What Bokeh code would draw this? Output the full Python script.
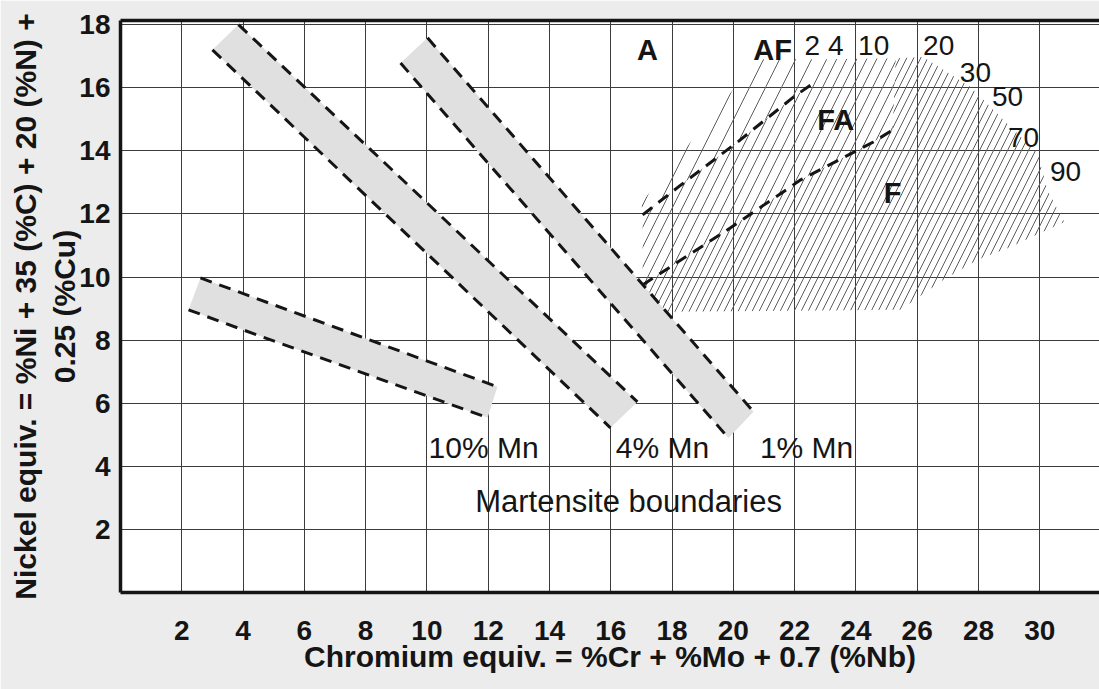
from bokeh.plotting import figure
from bokeh.models import FixedTicker, LinearAxis, Range1d
from bokeh.core.properties import value
from bokeh.embed import file_html
from bokeh.resources import INLINE

# ---------------- data ----------------
x_ticks = [2, 4, 6, 8, 10, 12, 14, 16, 18, 20, 22, 24, 26, 28, 30]
y_ticks = [2, 4, 6, 8, 10, 12, 14, 16, 18]

# martensite boundary bands (upper / lower dashed edges)
band_names = ["10% Mn", "4% Mn", "1% Mn"]
band_upper_x = [[2.61, 12.30], [3.85, 16.87], [10.02, 20.66]]
band_upper_y = [[9.97, 6.52], [18.00, 6.04], [17.58, 5.73]]
band_lower_x = [[2.22, 4.01, 11.98], [3.00, 15.99], [9.14, 19.84]]
band_lower_y = [[8.96, 8.32, 5.54], [17.20, 5.22], [16.78, 4.90]]
band_label_x = [11.85, 17.69, 22.39]
band_label_y = [4.60, 4.60, 4.60]

# phase boundaries (dashed)
af_fa_x = [17.04, 18.28, 20.14, 21.96, 22.62]
af_fa_y = [11.97, 12.91, 14.28, 15.70, 16.15]
fa_f_x = [17.04, 19.91, 22.20, 24.57, 25.20]
fa_f_y = [9.75, 11.56, 13.08, 14.28, 14.66]

# outline of the ferrite-containing (hatched) area
af_edge_x = [17.00, 20.80, 22.90]
af_edge_y = [12.35, 16.90, 16.90]
fa_top_x = [22.90, 25.30]
fa_top_y = [16.90, 16.93]
f_edge_x = [25.30, 26.20, 27.74, 28.82, 29.93, 30.25, 30.80, 30.03, 29.05, 27.97, 26.86, 25.46, 17.80]
f_edge_y = [16.93, 16.97, 16.02, 14.98, 13.93, 12.76, 11.74, 11.40, 10.95, 10.55, 9.91, 8.96, 8.90]

# region names
region_names = ["A", "AF", "FA", "F"]
region_x = [17.20, 21.28, 23.34, 25.20]
region_y = [17.20, 17.20, 14.98, 12.66]

# ferrite percentage labels
pct_labels = ["2", "4", "10", "20", "30", "50", "70", "90"]
pct_x = [22.58, 23.34, 24.58, 26.70, 27.90, 28.95, 29.47, 30.84]
pct_y = [17.35, 17.35, 17.35, 17.35, 16.49, 15.71, 14.41, 13.33]

title_note = "Martensite boundaries"
note_x = [16.58]
note_y = [2.87]

x_label = "Chromium equiv. = %Cr + %Mo + 0.7 (%Nb)"
y_label = "Nickel equiv. = %Ni + 35 (%C) + 20 (%N) +\n0.25 (%Cu)"

# ---------------- figure ----------------
FONT = "Liberation Sans"
INK = "#151515"

p = figure(width=1099, height=689,
           x_range=Range1d(0, 31.95), y_range=Range1d(0, 18.13),
           output_backend="svg", toolbar_location=None,
           min_border_left=120, min_border_right=0,
           min_border_top=20, min_border_bottom=97,
           background_fill_color="white", border_fill_color="#ececec",
           outline_line_color=None)

for ax in (p.xaxis[0], p.yaxis[0]):
    ax.axis_line_width = 3.5
    ax.axis_line_color = INK
    ax.major_tick_line_color = None
    ax.minor_tick_line_color = None
    ax.major_label_text_font = FONT
    ax.major_label_text_font_style = "bold"
    ax.major_label_text_font_size = "28px"
    ax.major_label_text_color = INK
    ax.axis_label_text_font = FONT
    ax.axis_label_text_font_style = "bold"
    ax.axis_label_text_color = INK

p.xaxis.ticker = FixedTicker(ticks=x_ticks)
p.yaxis.ticker = FixedTicker(ticks=y_ticks)
p.xaxis.major_label_standoff = 22
p.yaxis.major_label_standoff = 4
p.xaxis.axis_label = x_label
p.yaxis.axis_label = y_label
p.xaxis.axis_label_text_font_size = "30px"
p.yaxis.axis_label_text_font_size = "30px"
p.xaxis.axis_label_standoff = -3
p.yaxis.axis_label_standoff = -5

top = LinearAxis(ticker=FixedTicker(ticks=[]), axis_line_width=3.5, axis_line_color=INK,
                 major_tick_line_color=None, minor_tick_line_color=None,
                 major_label_text_font_size="0px")
p.add_layout(top, "above")

p.xgrid.ticker = FixedTicker(ticks=x_ticks)
p.ygrid.ticker = FixedTicker(ticks=y_ticks)
for g in (p.xgrid[0], p.ygrid[0]):
    g.grid_line_color = "#3c3c3c"
    g.grid_line_width = 1

# hatched ferrite zones
af_zone_x = af_edge_x + af_fa_x[::-1]
af_zone_y = af_edge_y + af_fa_y[::-1]
fa_zone_x = af_fa_x + fa_top_x + fa_f_x[::-1]
fa_zone_y = af_fa_y + fa_top_y + fa_f_y[::-1]
f_zone_x = fa_f_x + f_edge_x
f_zone_y = fa_f_y + f_edge_y
for zx, zy, sc in ((af_zone_x, af_zone_y, 32), (fa_zone_x, fa_zone_y, 20), (f_zone_x, f_zone_y, 14)):
    p.patch(zx, zy, fill_color=None, line_color=None,
            hatch_pattern="/", hatch_scale=sc, hatch_color="#5c5c5c", hatch_weight=1)

# martensite bands
for ux, uy, lx, ly in zip(band_upper_x, band_upper_y, band_lower_x, band_lower_y):
    p.patch(ux + lx[::-1], uy + ly[::-1], fill_color="#e0e0e0", line_color=None)
for ux, uy, lx, ly in zip(band_upper_x, band_upper_y, band_lower_x, band_lower_y):
    p.line(ux, uy, line_color=INK, line_width=3, line_dash="12 8")
    p.line(lx, ly, line_color=INK, line_width=3, line_dash="12 8")

# phase boundaries
p.line(af_fa_x, af_fa_y, line_color=INK, line_width=3, line_dash="12 8")
p.line(fa_f_x, fa_f_y, line_color=INK, line_width=3, line_dash="12 8")

# texts
p.text(x=band_label_x, y=band_label_y, text=band_names, text_font=value(FONT),
       text_font_size=value("30px"), text_color=INK, text_align="center", text_baseline="middle")
p.text(x=note_x, y=note_y, text=[title_note], text_font=value(FONT),
       text_font_size=value("31px"), text_color=INK, text_align="center", text_baseline="middle")
p.text(x=region_x, y=region_y, text=region_names, text_font=value(FONT), text_font_style="bold",
       text_font_size=value("29px"), text_color=INK, text_align="center", text_baseline="middle")
p.text(x=pct_x, y=pct_y, text=pct_labels, text_font=value(FONT),
       text_font_size=value("28px"), text_color=INK, text_align="center", text_baseline="middle")

open("out.html", "w").write(file_html(p, INLINE))
